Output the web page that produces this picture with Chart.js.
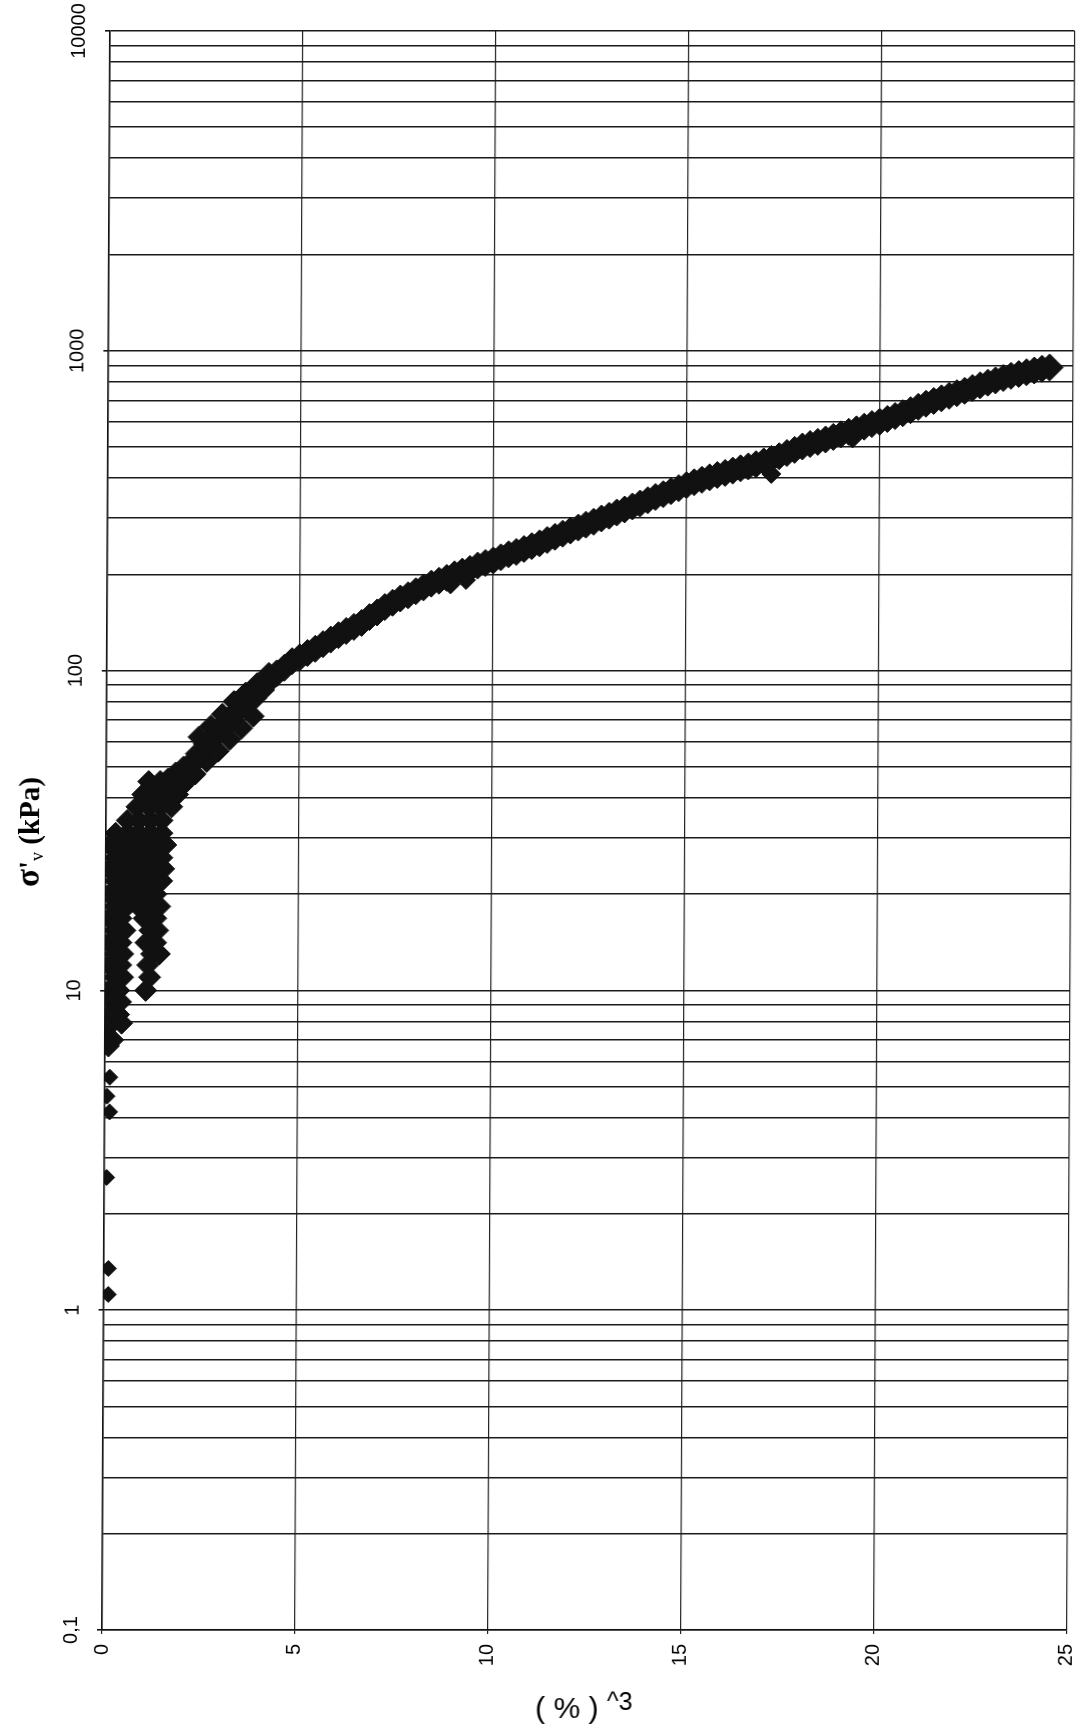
<!DOCTYPE html>
<html><head><meta charset="utf-8">
<script src="https://cdn.jsdelivr.net/npm/chart.js@4.4.0/dist/chart.umd.min.js"></script>
<style>
html,body{margin:0;padding:0;background:#fff;}
#wrap{width:1081px;height:1732px;position:relative;overflow:hidden;}
canvas{display:block;transform:skewX(-0.2866deg);transform-origin:0 1630px;}
</style>
</head><body><div id="wrap"><canvas id="c" width="1081" height="1732"></canvas></div>
<script>
// ---- axis ticks / labels ----
const xTickValues = [0, 5, 10, 15, 20, 25];
const xTickLabels = ['0', '5', '10', '15', '20', '25'];
const yTickValues = [0.1, 1, 10, 100, 1000, 10000];
const yTickLabels = ['0,1', '1', '10', '100', '1000', '10000'];
const xTitle = '( % )';
const xTitleSup = '^3';
const yTitleParts = ['σ', "'", 'v', ' (kPa)'];

// ---- early, scattered readings (x = strain^3, y = sigma'v kPa) ----
const clusterStrain = [
  1.1,1.4,1.7,
  0.95,1.25,1.55,1.85,
  0.8,1.1,1.4,1.7,
  0.55,0.85,1.15,1.45,
  0.25,0.55,0.85,1.15,1.45,
  0.1,0.4,0.7,1.0,1.3,1.55,
  0.25,0.55,0.85,1.15,1.45,
  0.1,0.4,0.7,1.0,1.3,1.5,
  0.25,0.55,0.85,1.15,1.45,
  0.1,0.4,0.7,1.0,1.3,
  0.25,0.55,0.85,1.15,1.4,
  0.1,0.4,1.0,1.3,
  0.25,0.5,1.15,1.35,
  0.1,0.4,1.05,1.3,
  0.25,0.45,1.2,1.4,
  0.1,0.4,1.1,
  0.25,0.45,1.15,
  0.1,0.35,1.05,
  0.2,0.4,
  0.1,0.35,
  0.05,0.43,
  0.2,0.09
];
const clusterStress = [
  45,45,45,
  41,41,41,41,
  37.5,37.5,37.5,37.5,
  34,34,34,34,
  31,31,31,31,31,
  28.5,28.5,28.5,28.5,28.5,28.5,
  26,26,26,26,26,
  24,24,24,24,24,24,
  22,22,22,22,22,
  20,20,20,20,20,
  18.3,18.3,18.3,18.3,18.3,
  16.8,16.8,16.8,16.8,
  15.4,15.4,15.4,15.4,
  14.1,14.1,14.1,14.1,
  13,13,13,13,
  12,12,12,
  11,11,11,
  10,10,10,
  9.2,9.2,
  8.4,8.4,
  7.6,7.9,
  7.0,6.7
];
const lowStrain = [0.13, 0.06, 0.13, 0.06, 0.12, 0.12];
const lowStress = [5.35, 4.67, 4.17, 2.6, 1.35, 1.12];

// ---- main loading band (centre line readings) ----
const bandStrain = [
  1.6,1.8,2.0,2.2,2.4,2.6,2.8,3.0,3.2,3.4,3.6,3.8,4.0,4.2,4.4,4.6,4.8,5.0,5.2,5.4,
  5.6,5.8,6.0,6.2,6.4,6.6,6.8,7.0,7.2,7.4,7.6,7.8,8.0,8.2,8.4,8.6,8.8,9.0,9.2,9.4,
  9.6,9.8,10.0,10.2,10.4,10.6,10.8,11.0,11.2,11.4,11.6,11.8,12.0,12.2,12.4,12.6,12.8,13.0,13.2,13.4,
  13.6,13.8,14.0,14.2,14.4,14.6,14.8,15.0,15.2,15.4,15.6,15.8,16.0,16.2,16.4,16.6,16.8,17.0,17.2,17.4,
  17.6,17.8,18.0,18.2,18.4,18.6,18.8,19.0,19.2,19.4,19.6,19.8,20.0,20.2,20.4,20.6,20.8,21.0,21.2,21.4,
  21.6,21.8,22.0,22.2,22.4,22.6,22.8,23.0,23.2,23.4,23.6,23.8,24.0,24.2,24.4
];
const bandStress = [
  45,47,49,51,55,59,62.5,66,70.5,75,78,82,87,93,98,102,107,110,113.5,117,
  121,125,129,133,137,141,147,152,158,163,168,172,177,182,187,191,195,200,204,208,
  213,217,221,226,231,235,240,245,250,256,262,268,274,280,286,292,299,305,312,319,
  326,333,341,349,356,364,372,380,388,395,402,409,415,422,429,435,442,451,459,468,
  479,490,502,511,519,528,538,548,558,568,579,590,600,612,625,638,652,668,683,697,
  710,723,737,750,765,780,795,808,822,835,846,857,868,879,887
];
// ---- wider part of the band between x = 2 and 4.2 (upper and lower edges) ----
const bandUpperStrain = [2.4, 2.7, 3.0, 3.3, 3.6, 3.9, 4.2];
const bandUpperStress = [62, 67, 73, 80, 85, 91, 98];
const bandLowerStrain = [2.0, 2.3, 2.6, 2.9, 3.2, 3.5, 3.8];
const bandLowerStress = [44, 47.5, 52, 56, 61, 66, 72];
// ---- single readings: lower edge of the early band and small dips ----
const dipStrain = [1.75, 2.0, 2.3, 17.2, 19.3, 8.9, 9.3];
const dipStress = [40, 43.5, 47, 412, 532, 186, 192];

const INK = '#111';
const pts = (xs, ys) => xs.map((x, i) => ({x: x, y: ys[i]}));
const isDecade = v => Math.abs(Math.log10(v) - Math.round(Math.log10(v))) < 1e-6;

const textPlugin = {
  id: 'texts',
  afterDraw(chart) {
    const c = chart.ctx, ys = chart.scales.y, xs = chart.scales.x;
    c.save();
    c.fillStyle = '#000';
    // y tick labels (rotated)
    c.font = '20px "Liberation Sans", Arial, sans-serif';
    c.textAlign = 'center';
    c.textBaseline = 'alphabetic';
    yTickValues.forEach((v, i) => {
      const py = ys.getPixelForValue(v);
      c.save(); c.translate(77, py); c.rotate(-Math.PI / 2);
      c.fillText(yTickLabels[i], 0, 0);
      c.restore();
    });
    // y title
    const fonts = ['bold 33px "Liberation Serif", "Times New Roman", serif',
                   'bold 29px "Liberation Serif", "Times New Roman", serif',
                   '18px "Liberation Serif", "Times New Roman", serif',
                   'bold 29px "Liberation Serif", "Times New Roman", serif'];
    const offs = [0, 0, 4, 0];
    const widths = yTitleParts.map((t, i) => { c.font = fonts[i]; return c.measureText(t).width; });
    const total = widths.reduce((a, b) => a + b, 0);
    c.save(); c.translate(35, 832); c.rotate(-Math.PI / 2);
    c.textAlign = 'left';
    let fx = -total / 2;
    yTitleParts.forEach((t, i) => { c.font = fonts[i]; c.fillText(t, fx, offs[i]); fx += widths[i]; });
    c.restore();
    // x title
    const cx = (xs.left + xs.right) / 2;
    const f1 = '30px "Liberation Sans", Arial, sans-serif';
    const f2 = '25px "Liberation Sans", Arial, sans-serif';
    c.font = f1; const w1 = c.measureText(xTitle + ' ').width;
    c.font = f2; const w2 = c.measureText(xTitleSup).width;
    const sx = cx - (w1 + w2) / 2;
    c.textAlign = 'left';
    c.font = f1; c.fillText(xTitle + ' ', sx, 1718);
    c.font = f2; c.fillText(xTitleSup, sx + w1, 1710);
    c.restore();
  }
};

const mk = (label, data, r) => ({label: label, data: data, pointStyle: 'rectRot',
  pointRadius: r, pointHoverRadius: r, pointBorderWidth: 1,
  backgroundColor: INK, borderColor: INK});

new Chart(document.getElementById('c'), {
  type: 'scatter',
  data: {
    datasets: [
      mk('cluster', pts(clusterStrain, clusterStress), 11),
      mk('low', pts(lowStrain, lowStress), 8),
      mk('band', pts(bandStrain, bandStress), 13.5),
      mk('bandUpper', pts(bandUpperStrain, bandUpperStress), 11),
      mk('bandLower', pts(bandLowerStrain, bandLowerStress), 11),
      mk('dips', pts(dipStrain, dipStress), 9.5)
    ]
  },
  options: {
    responsive: false,
    animation: false,
    devicePixelRatio: 1,
    layout: {padding: {top: 31, right: 13, left: 0, bottom: 0}},
    plugins: {legend: {display: false}, tooltip: {enabled: false}},
    scales: {
      x: {
        type: 'linear', min: 0, max: 25,
        afterBuildTicks: s => { s.ticks = xTickValues.map(v => ({value: v})); },
        afterFit: s => { s.height = 102; s.paddingLeft = 0; s.paddingRight = 0; },
        grid: {color: '#222', lineWidth: 1.2, tickLength: 4, tickColor: '#222'},
        border: {color: INK, width: 1.6},
        ticks: {
          minRotation: 90, maxRotation: 90, padding: 10, color: '#000',
          font: {family: '"Liberation Sans", Arial, sans-serif', size: 20},
          callback: v => { const i = xTickValues.indexOf(v); return i >= 0 ? xTickLabels[i] : ''; }
        }
      },
      y: {
        type: 'logarithmic', min: 0.1, max: 10000,
        afterBuildTicks: s => {
          const t = [];
          for (let e = -1; e <= 3; e++) {
            for (let m = 1; m <= 9; m++) t.push({value: Number((m * Math.pow(10, e)).toPrecision(3))});
          }
          t.push({value: 10000});
          s.ticks = t;
        },
        afterFit: s => { s.width = 102; },
        grid: {color: '#1a1a1a', lineWidth: 1.6, tickLength: 5,
               tickColor: c => (c.tick && isDecade(c.tick.value)) ? INK : 'rgba(0,0,0,0)'},
        border: {color: INK, width: 1.6},
        ticks: {display: false}
      }
    }
  },
  plugins: [textPlugin]
});
</script>
</body></html>
